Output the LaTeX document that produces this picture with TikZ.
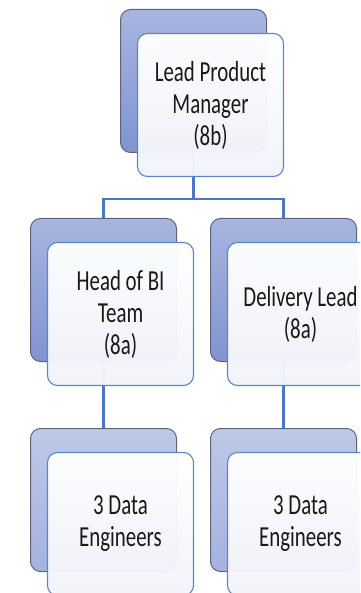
\documentclass[tikz,border=0pt]{standalone}
\usepackage{fontspec}
\setmainfont{Carlito}[FakeStretch=0.72]
\usetikzlibrary{positioning}
\definecolor{backtop}{HTML}{A8B5DF}
\definecolor{backbot}{HTML}{8194D1}
\definecolor{lighttop}{HTML}{BEC8E8}
\definecolor{lightbot}{HTML}{A5B2DF}
\definecolor{edgegrey}{HTML}{5E6479}
\definecolor{cardline}{HTML}{5B86C9}
\definecolor{cardfill}{HTML}{F2F4FA}
\definecolor{connblue}{HTML}{4A76C4}

\begin{document}
\begin{tikzpicture}[x=1pt,y=-1pt,
    back/.style={rectangle,rounded corners=10pt,draw=edgegrey,line width=1pt,
        minimum width=146pt,minimum height=143pt,top color=backtop,bottom color=backbot},
    backlight/.style={back,top color=lighttop,bottom color=lightbot},
    card/.style={rectangle,rounded corners=10pt,draw=cardline,line width=1.1pt,
        minimum width=146pt,minimum height=143pt,top color=white,bottom color=cardfill,
        fill opacity=0.97,text opacity=1,text=black!90,align=center,
        font=\fontsize{29}{32}\selectfont},
    conn/.style={draw=connblue,line width=2.2pt}]
    \useasboundingbox (0,0) rectangle (360,593);
    \clip (0,0) rectangle (360,593);

    % back plates
    \node[back] (lpmb) at (193.5,81) {};
    \node[back] (bib) at (103.5,290) {};
    \node[back] (dlb) at (283.5,290) {};
    \node[backlight] (de1b) at (103.5,500) {};
    \node[backlight] (de2b) at (283.5,500) {};

    % connectors
    \draw[conn] (lpmb.south) -- ++(0,46) -| (bib.north);
    \draw[conn] (lpmb.south) -- ++(0,46) -| (dlb.north);
    \draw[conn] (bib.south) -- (de1b.north);
    \draw[conn] (dlb.south) -- (de2b.north);

    % front cards
    \node[card] (lpm) at ([shift={(17,24)}]lpmb) {Lead Product\\Manager\\(8b)};
    \node[card] (bi) at ([shift={(17,24)}]bib) {Head of BI\\Team\\(8a)};
    \node[card] (dl) at ([shift={(17,24)}]dlb) {Delivery Lead\\(8a)};
    \node[card] (de1) at ([shift={(17,24)}]de1b) {3 Data\\Engineers};
    \node[card] (de2) at ([shift={(17,24)}]de2b) {3 Data\\Engineers};
\end{tikzpicture}
\end{document}
